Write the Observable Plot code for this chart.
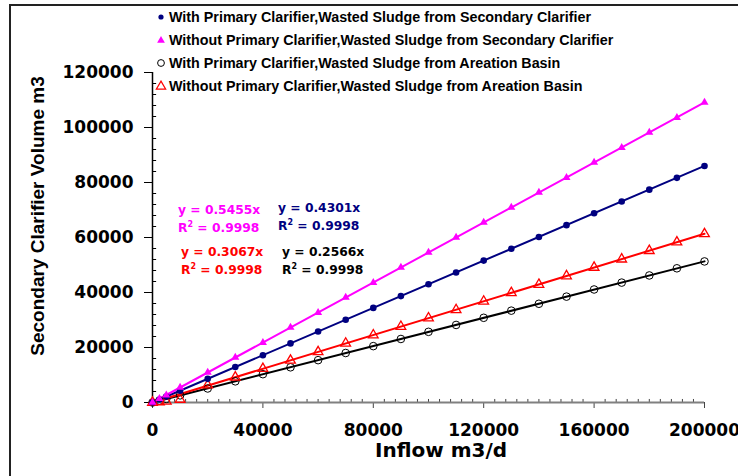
<!DOCTYPE html>
<html>
<head>
<meta charset="utf-8">
<script src="https://cdn.jsdelivr.net/npm/d3@7"></script>
<script src="https://cdn.jsdelivr.net/npm/@observablehq/plot@0.6"></script>
<style>
  body { margin: 0; background: #fff; }
  #wrap { position: relative; width: 738px; height: 476px; overflow: hidden; background: #fff; }
  #border { position: absolute; left: 9px; top: 4px; width: 760px; height: 500px; border-left: 2px solid #222; border-top: 2px solid #222; pointer-events: none; }
  #chart { position: absolute; left: 0; top: 0; }
  .leg { position: absolute; left: 155px; font-family: "Liberation Sans", Arial, sans-serif; font-weight: bold; font-size: 14.3px; color: #000; white-space: nowrap; line-height: 16px; }
  .leg svg { position: absolute; left: 0; top: 2px; }
  .leg span { position: absolute; left: 14px; top: 0; }
  .ann { position: absolute; font-family: "DejaVu Sans", sans-serif; font-weight: bold; font-size: 12.3px; white-space: nowrap; line-height: 14px; }
  .ann sup { font-size: 8px; vertical-align: 5px; line-height: 0; }
  .title { position: absolute; font-weight: bold; color: #000; white-space: nowrap; }
</style>
</head>
<body>
<div id="wrap">
  <div id="chart"></div>
  <div id="legend"></div>
  <div id="annots"></div>
  <div class="title" id="xtitle" style="font-family:'DejaVu Sans',sans-serif;font-size:20px;line-height:18px;left:441px;top:450px;transform:translate(-50%,-50%);">Inflow m3/d</div>
  <div class="title" id="ytitle" style="font-family:'Liberation Sans',Arial,sans-serif;font-size:19px;line-height:20px;left:38px;top:216px;transform:translate(-50%,-50%) rotate(-90deg);">Secondary Clarifier Volume m3</div>
  <div id="border"></div>
</div>
<script>
// ---- data ----
const inflow = [0, 2500, 5000, 10000, 20000, 30000, 40000, 50000, 60000, 70000, 80000, 90000, 100000,
  110000, 120000, 130000, 140000, 150000, 160000, 170000, 180000, 190000, 200000];
const withPrimSec = [0, 1100, 2150, 4300, 8600, 12900, 17200, 21500, 25800, 30100, 34400, 38700, 43000,
  47300, 51600, 55900, 60200, 64500, 68800, 73100, 77400, 81700, 86000];
const withoutPrimSec = [0, 1400, 2700, 5500, 10900, 16400, 21800, 27300, 32700, 38200, 43600, 49100, 54600,
  60000, 65500, 70900, 76400, 81800, 87300, 92700, 98200, 103600, 109100];
const withPrimAer = [0, 640, 1300, 2600, 5100, 7700, 10300, 12800, 15400, 18000, 20500, 23100, 25700,
  28200, 30800, 33400, 35900, 38500, 41100, 43600, 46200, 48800, 51300];
const withoutPrimAer = [0, 200, 400, 1100, 6300, 9200, 12300, 15300, 18400, 21500, 24500, 27600, 30700,
  33700, 36800, 39900, 42900, 46000, 49100, 52100, 55200, 58300, 61300];

const seriesNames = [
  "With Primary Clarifier,Wasted Sludge from Secondary Clarifier",
  "Without Primary Clarifier,Wasted Sludge from Secondary Clarifier",
  "With Primary Clarifier,Wasted Sludge from Areation Basin",
  "Without Primary Clarifier,Wasted Sludge from Areation Basin"
];
const slopes = [0.4301, 0.5455, 0.2566, 0.3067];
const r2 = [0.9998, 0.9998, 0.9998, 0.9998];
const colors = ["#000080", "#ff00ff", "#000000", "#ff0000"];

const xTicks = [0, 40000, 80000, 120000, 160000, 200000];
const yTicks = [0, 20000, 40000, 60000, 80000, 100000, 120000];
const xMinor = d3.range(0, 200001, 4000).filter(v => v % 40000 !== 0);
const yMinor = d3.range(0, 120001, 4000).filter(v => v % 20000 !== 0);

// ---- build tables ----
const seriesVals = [withPrimSec, withoutPrimSec, withPrimAer, withoutPrimAer];
const pts = seriesVals.map((vals, i) => inflow.map((x, j) => ({x, y: vals[j], s: i})));
const xMax = 200000;
const trend = slopes.map((k, i) => [{x: 0, y: 0, s: i}, {x: xMax, y: k * xMax, s: i}]);

const fmt = d3.format("d");
const font = {fontFamily: "DejaVu Sans", fontSize: 17, fontWeight: "bold"};

const plot = Plot.plot({
  width: 738,
  height: 476,
  marginLeft: 152,
  marginRight: 34,
  marginTop: 72,
  marginBottom: 74,
  style: {background: "transparent", color: "#000", fontFamily: "DejaVu Sans", fontSize: "17px", fontWeight: "bold"},
  x: {domain: [0, 200000]},
  y: {domain: [0, 120000]},
  marks: [
    // minor ticks
    Plot.ruleX(xMinor, {y1: 0, y2: 1100, stroke: "#444", strokeWidth: 1}),
    Plot.ruleY(yMinor, {x1: 0, x2: 1500, stroke: "#000", strokeWidth: 1}),
    // axes
    Plot.axisX(xTicks, {tickSize: 6, tickPadding: 15, tickFormat: fmt, label: null, stroke: "#444", ...font}),
    Plot.axisY(yTicks, {tickSize: 8, tickPadding: 11, tickFormat: fmt, label: null, ...font}),
    Plot.ruleY([0], {stroke: "#808080", strokeWidth: 2}),
    Plot.ruleX([0], {stroke: "#000", strokeWidth: 1.5}),
    // trend lines
    ...trend.map((t, i) => Plot.line(t, {x: "x", y: "y", stroke: colors[i], strokeWidth: 2})),
    // markers
    Plot.dot(pts[2], {x: "x", y: "y", r: 3.8, fill: "none", stroke: "#000", strokeWidth: 1}),
    Plot.dot(pts[3], {x: "x", y: "y", r: 3.6, symbol: "triangle", fill: "none", stroke: "#ff0000", strokeWidth: 1.3}),
    Plot.dot(pts[0], {x: "x", y: "y", r: 3.3, fill: "#000080", stroke: "none"}),
    Plot.dot(pts[1], {x: "x", y: "y", r: 3, symbol: "triangle", fill: "#ff00ff", stroke: "none"})
  ]
});
document.getElementById("chart").appendChild(plot);

// ---- legend ----
const legSyms = [
  `<svg width="12" height="12"><circle cx="6" cy="6" r="2.6" fill="#000080"/></svg>`,
  `<svg width="12" height="12"><path d="${d3.symbol(d3.symbolTriangle, 26)()}" transform="translate(6,6.5)" fill="#ff00ff"/></svg>`,
  `<svg width="12" height="12"><circle cx="6" cy="6" r="3.4" fill="none" stroke="#000" stroke-width="1"/></svg>`,
  `<svg width="12" height="12"><path d="${d3.symbol(d3.symbolTriangle, 38)()}" transform="translate(6,6.5)" fill="none" stroke="#ff0000" stroke-width="1.2"/></svg>`
];
const legRowsY = [17, 40, 63, 86];
const legOrder = [0, 1, 2, 3];
const legend = document.getElementById("legend");
legOrder.forEach((i, k) => {
  const d = document.createElement("div");
  d.className = "leg";
  d.style.top = (legRowsY[k] - 8) + "px";
  d.innerHTML = legSyms[i] + `<span>${seriesNames[i]}</span>`;
  legend.appendChild(d);
});

// ---- equation annotations ----
const annPos = [[278, 208], [178, 210], [282, 252], [181, 252]];
const annots = document.getElementById("annots");
slopes.forEach((k, i) => {
  const [lx, cy] = annPos[i];
  const a = document.createElement("div");
  a.className = "ann";
  a.style.left = lx + "px";
  a.style.top = (cy - 7) + "px";
  a.style.color = colors[i];
  a.innerHTML = `y = ${k.toFixed(4)}x<br><span style="position:relative;top:4px">R<sup>2</sup> = ${r2[i].toFixed(4)}</span>`;
  annots.appendChild(a);
});
</script>
</body>
</html>
